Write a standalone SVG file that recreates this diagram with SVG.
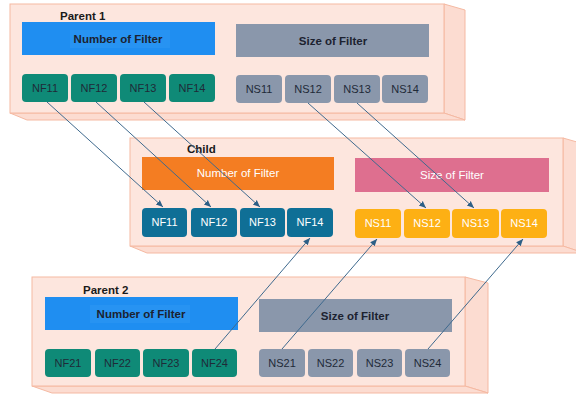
<svg xmlns="http://www.w3.org/2000/svg" width="576" height="396" viewBox="0 0 576 396">
<defs>
<style>
.front{fill:#fde6de;stroke:#f5b9a2;stroke-width:1}
.side{fill:#fcdcd1;stroke:#f5b9a2;stroke-width:1}
.title{font-family:"Liberation Sans",Arial,sans-serif;font-size:11.5px;font-weight:bold;fill:#1a1a1a}
.hdr{font-family:"Liberation Sans",Arial,sans-serif;font-size:11.5px;font-weight:bold;text-anchor:middle;fill:#1c2230}
.hdrw{font-family:"Liberation Sans",Arial,sans-serif;font-size:11.5px;text-anchor:middle;fill:#ffffff}
.lbl{font-family:"Liberation Sans",Arial,sans-serif;font-size:11px;text-anchor:middle;fill:#1f2a38}
.lblw{font-family:"Liberation Sans",Arial,sans-serif;font-size:11px;text-anchor:middle;fill:#ffffff}
.nf{fill:#0f8a77}
.ns{fill:#8a97ab}
.cnf{fill:#0f6f96}
.cns{fill:#fdb014}
.conn{stroke:#3f6a8e;stroke-width:1;fill:none}
</style>
<marker id="ah" markerWidth="8" markerHeight="8" refX="7" refY="4" orient="auto" markerUnits="userSpaceOnUse">
<path d="M0,1 L7,4 L0,7 z" fill="#2d5f86"/>
</marker>
</defs>

<g id="parent1">
<polygon class="side" points="444,4 465,10 465,120 444,113"/>
<polygon class="side" points="10,113 444,113 465,120 27,120"/>
<rect class="front" x="10" y="4" width="434" height="109"/>
<text class="title" x="60" y="20">Parent 1</text>
<rect x="22" y="22" width="193" height="33" fill="#1f8ef1"/>
<rect x="70" y="30" width="100" height="18" fill="#3a9ef5" opacity="0.3"/>
<text class="hdr" x="118" y="43">Number of Filter</text>
<rect x="236" y="24" width="193" height="33" fill="#8a97ab"/>
<text class="hdr" x="333" y="45">Size of Filter</text>
<g id="p1-nf11"><rect class="nf" x="22" y="74" width="46" height="28" rx="4"/><text class="lbl" x="45" y="92">NF11</text></g>
<g id="p1-nf12"><rect class="nf" x="71" y="74" width="46" height="28" rx="4"/><text class="lbl" x="94" y="92">NF12</text></g>
<g id="p1-nf13"><rect class="nf" x="120" y="74" width="46" height="28" rx="4"/><text class="lbl" x="143" y="92">NF13</text></g>
<g id="p1-nf14"><rect class="nf" x="169" y="74" width="46" height="28" rx="4"/><text class="lbl" x="192" y="92">NF14</text></g>
<g id="p1-ns11"><rect class="ns" x="236" y="75" width="46" height="28" rx="4"/><text class="lbl" x="259" y="93">NS11</text></g>
<g id="p1-ns12"><rect class="ns" x="285" y="75" width="46" height="28" rx="4"/><text class="lbl" x="308" y="93">NS12</text></g>
<g id="p1-ns13"><rect class="ns" x="334" y="75" width="46" height="28" rx="4"/><text class="lbl" x="357" y="93">NS13</text></g>
<g id="p1-ns14"><rect class="ns" x="382" y="75" width="46" height="28" rx="4"/><text class="lbl" x="405" y="93">NS14</text></g>
</g>

<g id="child">
<polygon class="side" points="563,138 584,144 584,253 563,246"/>
<polygon class="side" points="130,246 563,246 584,253 147,253"/>
<rect class="front" x="130" y="138" width="433" height="108"/>
<text class="title" x="187" y="153">Child</text>
<rect x="142" y="157" width="192" height="33" fill="#f47d22"/>
<text class="hdrw" x="238" y="177">Number of Filter</text>
<rect x="355" y="158" width="194" height="34" fill="#de6f8f"/>
<text class="hdrw" x="452" y="179" fill="#f6dde5">Size of Filter</text>
<g id="c-nf11"><rect class="cnf" x="142" y="208" width="45" height="29" rx="4"/><text class="lblw" x="164.5" y="226">NF11</text></g>
<g id="c-nf12"><rect class="cnf" x="191" y="208" width="46" height="29" rx="4"/><text class="lblw" x="214" y="226">NF12</text></g>
<g id="c-nf13"><rect class="cnf" x="240" y="208" width="45" height="29" rx="4"/><text class="lblw" x="262.5" y="226">NF13</text></g>
<g id="c-nf14"><rect class="cnf" x="287" y="208" width="46" height="29" rx="4"/><text class="lblw" x="310" y="226">NF14</text></g>
<g id="c-ns11"><rect class="cns" x="355" y="209" width="46" height="29" rx="4"/><text class="lblw" x="378" y="227">NS11</text></g>
<g id="c-ns12"><rect class="cns" x="404" y="209" width="46" height="29" rx="4"/><text class="lblw" x="427" y="227">NS12</text></g>
<g id="c-ns13"><rect class="cns" x="452" y="209" width="47" height="29" rx="4"/><text class="lblw" x="475.5" y="227">NS13</text></g>
<g id="c-ns14"><rect class="cns" x="501" y="209" width="46" height="29" rx="4"/><text class="lblw" x="524" y="227">NS14</text></g>
</g>

<g id="parent2">
<polygon class="side" points="465,277 488,283 488,393 465,386"/>
<polygon class="side" points="32,386 465,386 488,393 52,393"/>
<rect class="front" x="32" y="277" width="433" height="109"/>
<text class="title" x="83" y="294">Parent 2</text>
<rect x="45" y="297" width="193" height="33" fill="#1f8ef1"/>
<rect x="90" y="305" width="100" height="18" fill="#3a9ef5" opacity="0.3"/>
<text class="hdr" x="141" y="318">Number of Filter</text>
<rect x="259" y="299" width="193" height="33" fill="#8a97ab"/>
<text class="hdr" x="355" y="320">Size of Filter</text>
<g id="p2-nf21"><rect class="nf" x="45" y="349" width="46" height="28" rx="4"/><text class="lbl" x="68" y="367">NF21</text></g>
<g id="p2-nf22"><rect class="nf" x="95" y="349" width="45" height="28" rx="4"/><text class="lbl" x="117.5" y="367">NF22</text></g>
<g id="p2-nf23"><rect class="nf" x="143" y="349" width="46" height="28" rx="4"/><text class="lbl" x="166" y="367">NF23</text></g>
<g id="p2-nf24"><rect class="nf" x="192" y="349" width="45" height="28" rx="4"/><text class="lbl" x="214.5" y="367">NF24</text></g>
<g id="p2-ns21"><rect class="ns" x="259" y="349" width="46" height="28" rx="4"/><text class="lbl" x="282" y="367">NS21</text></g>
<g id="p2-ns22"><rect class="ns" x="308" y="349" width="45" height="28" rx="4"/><text class="lbl" x="330.5" y="367">NS22</text></g>
<g id="p2-ns23"><rect class="ns" x="357" y="349" width="45" height="28" rx="4"/><text class="lbl" x="379.5" y="367">NS23</text></g>
<g id="p2-ns24"><rect class="ns" x="405" y="349" width="45" height="28" rx="4"/><text class="lbl" x="427.5" y="367">NS24</text></g>
</g>

<g id="connectors">
<line class="conn" x1="47" y1="102" x2="163" y2="207" marker-end="url(#ah)"/>
<line class="conn" x1="96" y1="102" x2="211" y2="207" marker-end="url(#ah)"/>
<line class="conn" x1="144" y1="102" x2="260" y2="207" marker-end="url(#ah)"/>
<line class="conn" x1="308" y1="103" x2="426" y2="208" marker-end="url(#ah)"/>
<line class="conn" x1="357" y1="103" x2="474" y2="208" marker-end="url(#ah)"/>
<line class="conn" x1="215" y1="349" x2="310" y2="238" marker-end="url(#ah)"/>
<line class="conn" x1="282" y1="349" x2="377" y2="239" marker-end="url(#ah)"/>
<line class="conn" x1="428" y1="349" x2="523" y2="239" marker-end="url(#ah)"/>
</g>
</svg>
